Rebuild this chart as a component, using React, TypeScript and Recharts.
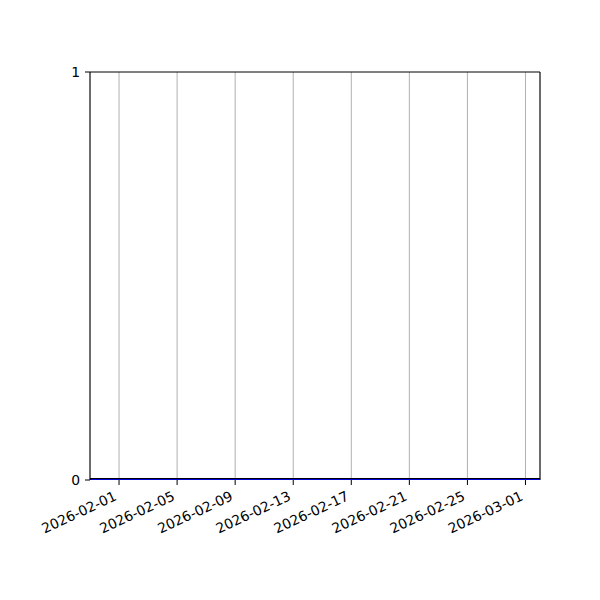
import React from "react";
import { ComposedChart, Line, XAxis, YAxis, CartesianGrid, ReferenceLine } from "recharts";

const lineDates = ["2026-01-30", "2026-03-02"];
const lineValues = [0, 0];
const tickDates = [
  "2026-02-01",
  "2026-02-05",
  "2026-02-09",
  "2026-02-13",
  "2026-02-17",
  "2026-02-21",
  "2026-02-25",
  "2026-03-01",
];
const yTicks = [0, 1];
const domainDates = ["2026-01-30", "2026-03-02"];

const DAY = 86400000;
const toDay = (s: string) => {
  const [y, m, d] = s.split("-").map(Number);
  return Date.UTC(y, m - 1, d) / DAY;
};
const fmt = (v: number) => new Date(v * DAY).toISOString().slice(0, 10);

const data = lineDates.map((d, i) => ({ x: toDay(d), v: lineValues[i] }));
const xTicks = tickDates.map(toDay);
const xDomain = domainDates.map(toDay);

const FONT = "'DejaVu Sans', sans-serif";

const XTick = (props: any) => {
  const { x, y, payload } = props;
  return (
    <g transform={`translate(${x - 1.4},${y + 9.6}) rotate(-25)`}>
      <text
        x={0}
        y={0}
        textAnchor="end"
        fontSize={13.9}
        fontFamily={FONT}
        fill="#000"
      >
        {fmt(payload.value)}
      </text>
    </g>
  );
};

export default function App() {
  return (
    <div style={{ position: "absolute", left: 0, top: 0, width: 600, height: 600, background: "#fff" }}>
      <ComposedChart
        width={600}
        height={600}
        data={data}
        margin={{ top: 72, right: 60, bottom: 0, left: 0 }}
      >
        <CartesianGrid horizontal={false} vertical={true} stroke="#b0b0b0" strokeWidth={1} />
        <XAxis
          dataKey="x"
          type="number"
          domain={xDomain}
          ticks={xTicks}
          interval={0}
          height={120}
          tickSize={5}
          tickMargin={5}
          axisLine={false}
          tickLine={{ stroke: "#000", strokeWidth: 1 }}
          tick={<XTick />}
          allowDataOverflow
        />
        <YAxis
          type="number"
          domain={[0, 1]}
          ticks={yTicks}
          interval={0}
          width={90}
          tickSize={5}
          tickMargin={5}
          axisLine={{ stroke: "#000", strokeWidth: 1 }}
          tickLine={{ stroke: "#000", strokeWidth: 1 }}
          tick={{ fill: "#000", fontSize: 13.9, fontFamily: FONT }}
          allowDataOverflow
        />
        <ReferenceLine y={1} stroke="#000" strokeWidth={1} />
        <ReferenceLine x={xDomain[1]} stroke="#000" strokeWidth={1} />
        <Line
          dataKey="v"
          stroke="#000"
          strokeWidth={4}
          dot={false}
          isAnimationActive={false}
        />
        <Line
          dataKey="v"
          stroke="#0000e0"
          strokeWidth={2}
          dot={false}
          isAnimationActive={false}
        />
      </ComposedChart>
    </div>
  );
}
